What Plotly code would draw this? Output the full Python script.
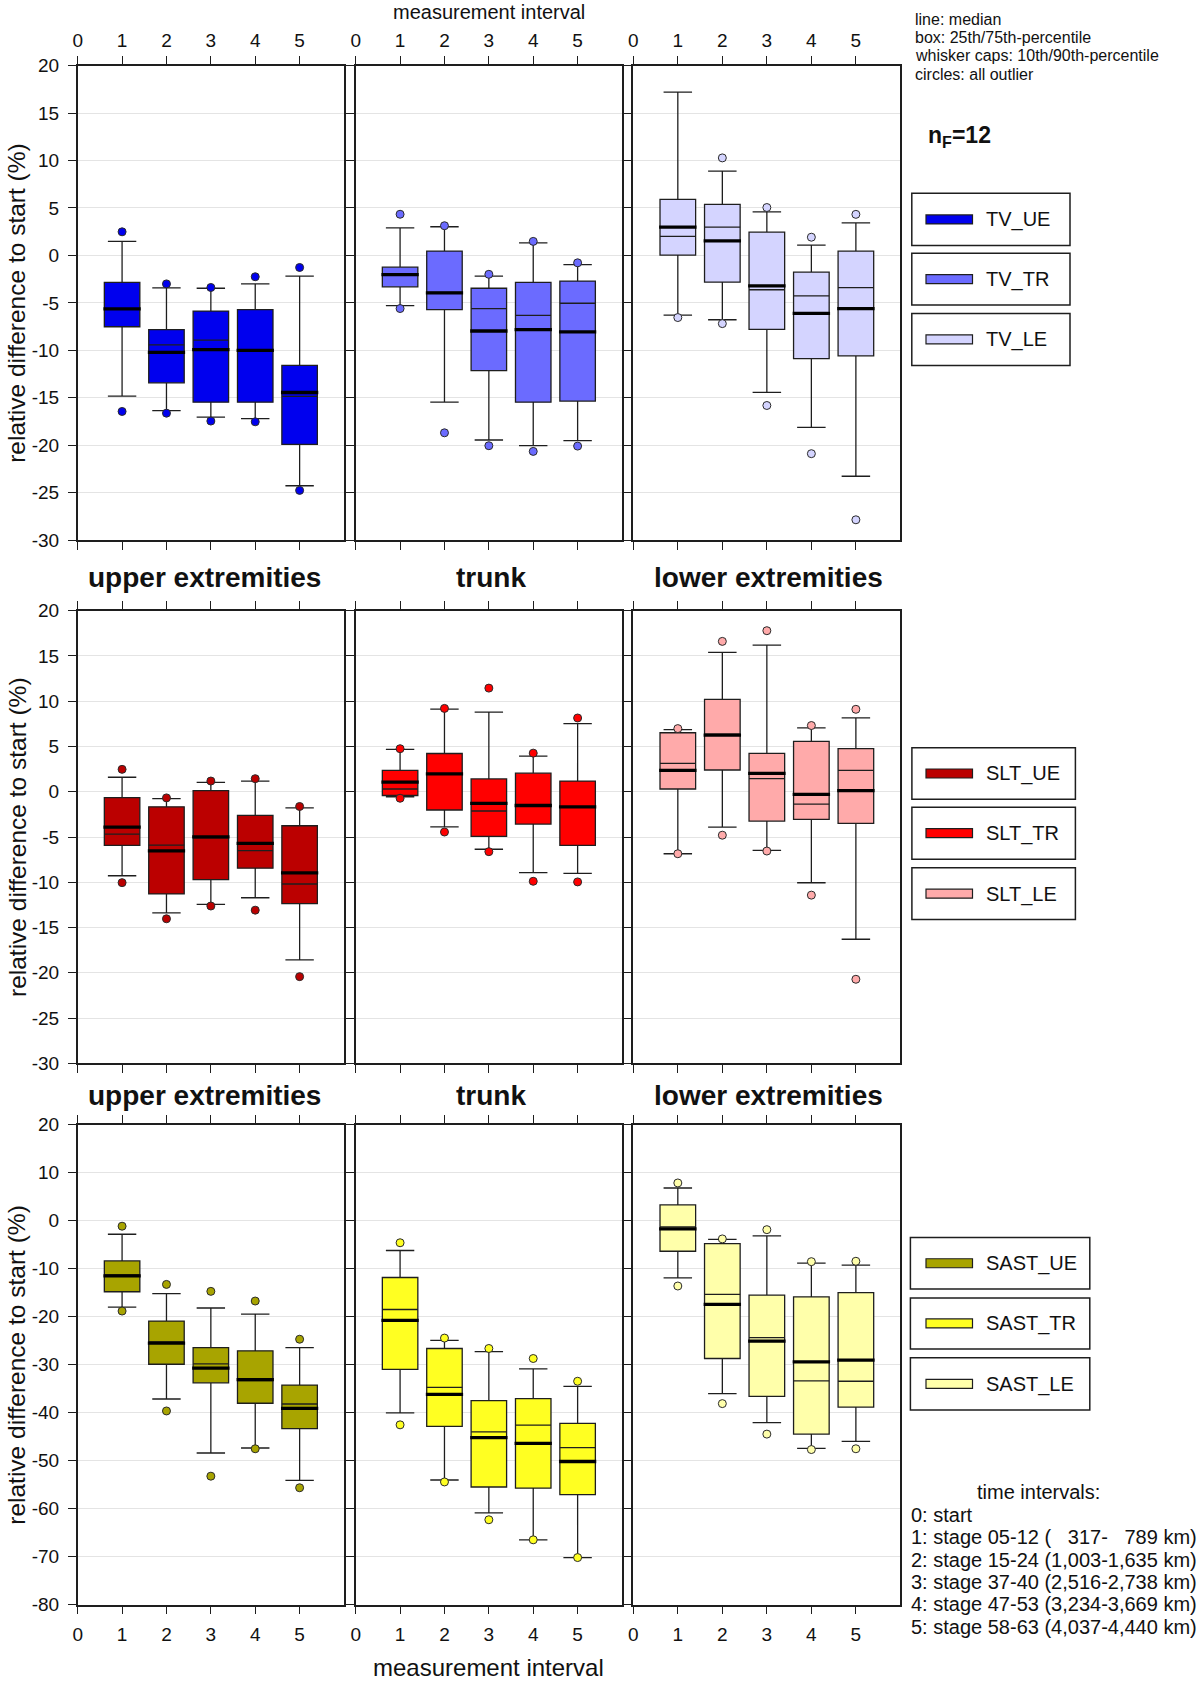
import plotly.graph_objects as go

# ---------------- data ----------------
intervals = [1, 2, 3, 4, 5]
x_ticks = [0, 1, 2, 3, 4, 5]
y_ticks_small = [20, 15, 10, 5, 0, -5, -10, -15, -20, -25, -30]
y_ticks_large = [20, 10, 0, -10, -20, -30, -40, -50, -60, -70, -80]

# TV
TV_UE_q3 = [-2.85, -7.82, -5.87, -5.72, -11.59]
TV_UE_q1 = [-7.52, -13.43, -15.47, -15.47, -19.91]
TV_UE_med = [-5.64, -10.23, -9.93, -10.0, -14.45]
TV_UE_mean = [-5.6, -9.44, -8.92, -10.05, -14.86]
TV_UE_p90 = [1.48, -3.42, -3.46, -3.0, -2.18]
TV_UE_p10 = [-14.83, -16.37, -17.05, -17.2, -24.28]
TV_UE_out = [[2.49, -16.45], [-3.0, -16.63], [-3.38, -17.46], [-2.25, -17.54], [-1.27, -24.77]]

TV_TR_q3 = [-1.24, 0.46, -3.46, -2.85, -2.70]
TV_TR_q1 = [-3.31, -5.72, -12.15, -15.47, -15.35]
TV_TR_med = [-2.03, -3.95, -7.97, -7.82, -8.05]
TV_TR_mean = [-2.0, -3.9, -5.60, -6.32, -5.04]
TV_TR_p90 = [2.91, 3.02, -2.18, 1.33, -0.97]
TV_TR_p10 = [-5.30, -15.47, -19.46, -20.06, -19.53]
TV_TR_out = [[4.34, -5.60], [3.13, -18.70], [-1.99, -20.06], [1.48, -20.66], [-0.78, -20.1]]

TV_LE_q3 = [5.91, 5.39, 2.45, -1.77, 0.45]
TV_LE_q1 = [0.04, -2.82, -7.80, -10.89, -10.58]
TV_LE_med = [2.98, 1.54, -3.2, -6.10, -5.61]
TV_LE_mean = [2.0, 2.98, -3.62, -4.26, -3.39]
TV_LE_p90 = [17.21, 8.89, 4.6, 1.09, 3.43]
TV_LE_p10 = [-6.29, -6.78, -14.43, -18.12, -23.28]
TV_LE_out = [[-6.55], [10.28, -7.19], [5.05, -15.82], [1.92, -20.9], [4.33, -27.87]]

# SLT
SLT_UE_q3 = [-0.65, -1.67, 0.11, -2.62, -3.76]
SLT_UE_q1 = [-5.93, -11.29, -9.70, -8.44, -12.36]
SLT_UE_med = [-3.92, -6.54, -4.98, -5.70, -8.97]
SLT_UE_mean = [-4.68, -5.89, -5.1, -6.50, -10.19]
SLT_UE_p90 = [1.60, -0.76, 1.03, 1.18, -1.79]
SLT_UE_p10 = [-9.28, -13.38, -12.43, -11.71, -18.56]
SLT_UE_out = [[2.47, -10.04], [-0.68, -14.03], [1.18, -12.62], [1.44, -13.08], [-1.63, -20.42]]

SLT_TR_q3 = [2.36, 4.22, 1.41, 2.05, 1.18]
SLT_TR_q1 = [-0.42, -2.02, -4.94, -3.57, -5.93]
SLT_TR_med = [1.06, 1.98, -1.29, -1.52, -1.67]
SLT_TR_mean = [0.30, 2.0, -2.13, -1.5, -1.7]
SLT_TR_p90 = [4.68, 9.13, 8.78, 3.92, 7.53]
SLT_TR_p10 = [-0.57, -3.88, -6.35, -8.94, -9.01]
SLT_TR_out = [[4.75, -0.72], [9.2, -4.45], [11.44, -6.62], [4.26, -9.89], [8.14, -9.96]]

SLT_LE_q3 = [6.51, 10.2, 4.23, 5.56, 4.76]
SLT_LE_q1 = [0.30, 2.40, -3.24, -3.05, -3.50]
SLT_LE_med = [2.36, 6.24, 2.02, -0.30, 0.11]
SLT_LE_mean = [3.12, 6.35, 1.45, -1.37, 2.36]
SLT_LE_p90 = [6.85, 15.38, 16.18, 7.04, 8.15]
SLT_LE_p10 = [-6.85, -3.92, -6.47, -10.05, -16.29]
SLT_LE_out = [[6.97, -6.85], [16.6, -4.8], [17.78, -6.55], [7.31, -11.42], [9.10, -20.71]]

# SAST
SAST_UE_q3 = [-8.36, -20.9, -26.45, -27.09, -34.24]
SAST_UE_q1 = [-14.79, -29.9, -33.76, -38.02, -43.33]
SAST_UE_med = [-11.5, -25.48, -30.71, -33.12, -39.07]
SAST_UE_mean = [-11.3, -25.24, -29.82, -33.3, -38.18]
SAST_UE_p90 = [-2.81, -15.19, -18.17, -19.45, -26.45]
SAST_UE_p10 = [-18.0, -37.14, -48.39, -47.35, -54.1]
SAST_UE_out = [[-1.13, -18.81], [-13.26, -39.63], [-14.71, -53.22], [-16.72, -47.51], [-24.68, -55.63]]

SAST_TR_q3 = [-11.82, -26.61, -37.46, -37.06, -42.2]
SAST_TR_q1 = [-30.95, -42.85, -55.47, -55.71, -57.07]
SAST_TR_med = [-20.74, -36.17, -45.18, -46.38, -50.16]
SAST_TR_mean = [-18.49, -34.73, -43.97, -42.60, -47.27]
SAST_TR_p90 = [-6.19, -24.92, -27.25, -30.87, -34.49]
SAST_TR_p10 = [-40.03, -54.02, -60.85, -66.48, -70.18]
SAST_TR_out = [[-4.58, -42.52], [-24.44, -54.42], [-26.61, -62.3], [-28.7, -66.48], [-33.44, -70.18]]

SAST_LE_q3 = [3.30, -4.74, -15.51, -15.84, -14.95]
SAST_LE_q1 = [-6.35, -28.7, -36.58, -44.45, -38.83]
SAST_LE_med = [-1.69, -17.44, -25.08, -29.42, -29.02]
SAST_LE_mean = [-1.29, -15.35, -24.36, -33.36, -33.44]
SAST_LE_p90 = [6.83, -3.86, -3.14, -8.84, -9.25]
SAST_LE_p10 = [-11.9, -36.01, -42.04, -47.43, -45.98]
SAST_LE_out = [[7.88, -13.59], [-3.78, -38.1], [-1.85, -44.45], [-8.52, -47.67], [-8.44, -47.51]]

panel_titles = ["upper extremities", "trunk", "lower extremities"]
notes = ["line: median", "box: 25th/75th-percentile",
         "whisker caps: 10th/90th-percentile", "circles: all outlier"]
time_lines = ["0: start",
              "1: stage 05-12 (\u00a0\u00a0\u00a0317-\u00a0\u00a0\u00a0789 km)",
              "2: stage 15-24 (1,003-1,635 km)",
              "3: stage 37-40 (2,516-2,738 km)",
              "4: stage 47-53 (3,234-3,669 km)",
              "5: stage 58-63 (4,037-4,440 km)"]

# ---------------- assemble ----------------
def S(name, color, q3, q1, med, mean, p90, p10, out):
    return dict(name=name, color=color, q3=q3, q1=q1, med=med, mean=mean,
                p90=p90, p10=p10, out=out)

rows = [
    [S("TV_UE", "#0000EE", TV_UE_q3, TV_UE_q1, TV_UE_med, TV_UE_mean, TV_UE_p90, TV_UE_p10, TV_UE_out),
     S("TV_TR", "#6B6BFF", TV_TR_q3, TV_TR_q1, TV_TR_med, TV_TR_mean, TV_TR_p90, TV_TR_p10, TV_TR_out),
     S("TV_LE", "#D4D4FF", TV_LE_q3, TV_LE_q1, TV_LE_med, TV_LE_mean, TV_LE_p90, TV_LE_p10, TV_LE_out)],
    [S("SLT_UE", "#BB0000", SLT_UE_q3, SLT_UE_q1, SLT_UE_med, SLT_UE_mean, SLT_UE_p90, SLT_UE_p10, SLT_UE_out),
     S("SLT_TR", "#FF0000", SLT_TR_q3, SLT_TR_q1, SLT_TR_med, SLT_TR_mean, SLT_TR_p90, SLT_TR_p10, SLT_TR_out),
     S("SLT_LE", "#FFAAAA", SLT_LE_q3, SLT_LE_q1, SLT_LE_med, SLT_LE_mean, SLT_LE_p90, SLT_LE_p10, SLT_LE_out)],
    [S("SAST_UE", "#A8A400", SAST_UE_q3, SAST_UE_q1, SAST_UE_med, SAST_UE_mean, SAST_UE_p90, SAST_UE_p10, SAST_UE_out),
     S("SAST_TR", "#FFFF22", SAST_TR_q3, SAST_TR_q1, SAST_TR_med, SAST_TR_mean, SAST_TR_p90, SAST_TR_p10, SAST_TR_out),
     S("SAST_LE", "#FFFFAA", SAST_LE_q3, SAST_LE_q1, SAST_LE_med, SAST_LE_mean, SAST_LE_p90, SAST_LE_p10, SAST_LE_out)],
]
row_yticks = [y_ticks_small, y_ticks_small, y_ticks_large]

W, H = 1200, 1685
FONT = "Liberation Sans, Arial, sans-serif"
INK = "#1e1e1e"
TICK_FONT = 19

def px(x):
    return x / W

def py(y):
    return 1 - y / H

col_px = [(77.7, 344.0), (355.7, 622.0), (633.3, 900.4)]
row_px = [(65.7, 540.0), (610.6, 1063.4), (1124.8, 1604.7)]

fig = go.Figure()
layout_axes = {}

for r in range(3):
    for c in range(3):
        k = r * 3 + c + 1
        s = rows[r][c]
        xa, ya = f"x{k}", f"y{k}"
        fig.add_trace(go.Box(
            x=intervals, q1=s["q1"], median=s["med"], q3=s["q3"],
            lowerfence=s["p10"], upperfence=s["p90"], orientation="v",
            width=0.8, whiskerwidth=0.8, fillcolor=s["color"],
            line=dict(color=INK, width=1.3), boxpoints=False, boxmean=False,
            name=s["name"], showlegend=False, xaxis=xa, yaxis=ya))
        mx, my, ax_, ay_ = [], [], [], []
        for xi, m, a in zip(intervals, s["med"], s["mean"]):
            mx += [xi - 0.42, xi + 0.42, None]
            my += [m, m, None]
            ax_ += [xi - 0.4, xi + 0.4, None]
            ay_ += [a, a, None]
        fig.add_trace(go.Scatter(x=ax_, y=ay_, mode="lines", line=dict(color=INK, width=1.3),
                                 showlegend=False, hoverinfo="skip", xaxis=xa, yaxis=ya))
        fig.add_trace(go.Scatter(x=mx, y=my, mode="lines", line=dict(color="#000000", width=3.3),
                                 showlegend=False, name=s["name"] + " median", xaxis=xa, yaxis=ya))
        ox, oy = [], []
        for xi, outs in zip(intervals, s["out"]):
            for o in outs:
                ox.append(xi)
                oy.append(o)
        fig.add_trace(go.Scatter(x=ox, y=oy, mode="markers",
                                 marker=dict(size=8, color=s["color"], line=dict(color="#2a2a2a", width=1)),
                                 showlegend=False, name=s["name"] + " outlier", xaxis=xa, yaxis=ya))

        x0, x1 = col_px[c]
        y0, y1 = row_px[r]
        side = "top" if r == 0 else "bottom"
        layout_axes[f"xaxis{k}"] = dict(
            domain=[px(x0), px(x1)], range=[0, 6], tickvals=x_ticks,
            ticktext=[str(t) for t in x_ticks], ticks="outside", ticklen=8, tickwidth=1.3,
            tickcolor=INK, showline=True, linecolor=INK, linewidth=1.5, mirror="ticks",
            showgrid=False, zeroline=False, side=side, anchor=ya,
            showticklabels=(r != 1), tickfont=dict(size=TICK_FONT, color="#111", family=FONT),
            ticklabelstandoff=(1 if r == 0 else 4),
            automargin=False, fixedrange=True)
        layout_axes[f"xaxis{k + 9}"] = dict(
            overlaying=xa, anchor=ya, range=[0, 6], tickvals=x_ticks, ticks="inside",
            ticklen=6, tickwidth=1.3, tickcolor=INK, mirror="ticks", showline=False,
            showticklabels=False, showgrid=False, zeroline=False, side=side,
            automargin=False, fixedrange=True)
        yt = row_yticks[r]
        layout_axes[f"yaxis{k}"] = dict(
            domain=[py(y1), py(y0)], range=[yt[-1], yt[0]], tickvals=yt,
            ticktext=[str(t) for t in yt], ticks="outside", ticklen=8, tickwidth=1.3,
            tickcolor=INK, showline=True, linecolor=INK, linewidth=1.5, mirror=True,
            showgrid=True, gridcolor="#E4E4E4", gridwidth=1, zeroline=False, anchor=xa,
            showticklabels=(c == 0), tickfont=dict(size=TICK_FONT, color="#111", family=FONT),
            ticklabelstandoff=5,
            automargin=False, fixedrange=True)

annotations = []
shapes = []

def text(x, y, t, size, xanchor="center", bold=False, angle=0):
    annotations.append(dict(
        x=px(x), y=py(y), xref="paper", yref="paper", text=(f"<b>{t}</b>" if bold else t),
        showarrow=False, xanchor=xanchor, yanchor="middle", textangle=angle,
        font=dict(size=size, color="#111", family=FONT)))

# axis titles
text(488.8, 11.5, "measurement interval", 20)
text(488.8, 1667, "measurement interval", 24)
for (y0, y1) in row_px:
    text(17, (y0 + y1) / 2, "relative difference to start (%)", 24.5, angle=-90)

# panel titles
title_x = [204.5, 490.5, 768.4]
for ty in (577.2, 1095.4):
    for tx, t in zip(title_x, panel_titles):
        text(tx, ty, t, 28, bold=True)

# notes
for i, t in enumerate(notes):
    text(912.5, 20 + 18.0 * i, t, 16, xanchor="left")
text(926, 137, "n<sub>F</sub>=12", 23, xanchor="left", bold=True)

# legend boxes
legend_rows = [
    ((911.8, 1070), [(193.3, 245.6), (253.3, 305.0), (313.5, 365.4)]),
    ((911.9, 1075.4), [(747.7, 799.3), (807.2, 859.2), (867.8, 919.5)]),
    ((910.4, 1089.8), [(1237.4, 1289.1), (1298.0, 1348.9), (1357.8, 1409.9)]),
]
for r, ((bx0, bx1), boxes) in enumerate(legend_rows):
    for c, (by0, by1) in enumerate(boxes):
        s = rows[r][c]
        shapes.append(dict(type="rect", xref="paper", yref="paper",
                           x0=px(bx0), x1=px(bx1), y0=py(by1), y1=py(by0),
                           line=dict(color=INK, width=1.5), fillcolor="white", layer="above"))
        cy = (by0 + by1) / 2
        shapes.append(dict(type="rect", xref="paper", yref="paper",
                           x0=px(926), x1=px(972.5), y0=py(cy + 4.5), y1=py(cy - 4.5),
                           line=dict(color=INK, width=1.2), fillcolor=s["color"], layer="above"))
        text(983.5, cy + 0.5, s["name"], 20, xanchor="left")

# time intervals
text(1038, 1492, "time intervals:", 20)
for i, t in enumerate(time_lines):
    text(909.3, 1514.8 + 22.4 * i, t, 20, xanchor="left")

fig.update_layout(
    width=W, height=H, margin=dict(l=0, r=0, t=0, b=0, pad=0),
    paper_bgcolor="white", plot_bgcolor="white",
    font=dict(family=FONT, color="#111"),
    showlegend=False, annotations=annotations, shapes=shapes, **layout_axes)

fig.write_html("out.html", config={"displayModeBar": False},
               post_script="document.body.style.margin='0';document.body.style.overflow='hidden';")
